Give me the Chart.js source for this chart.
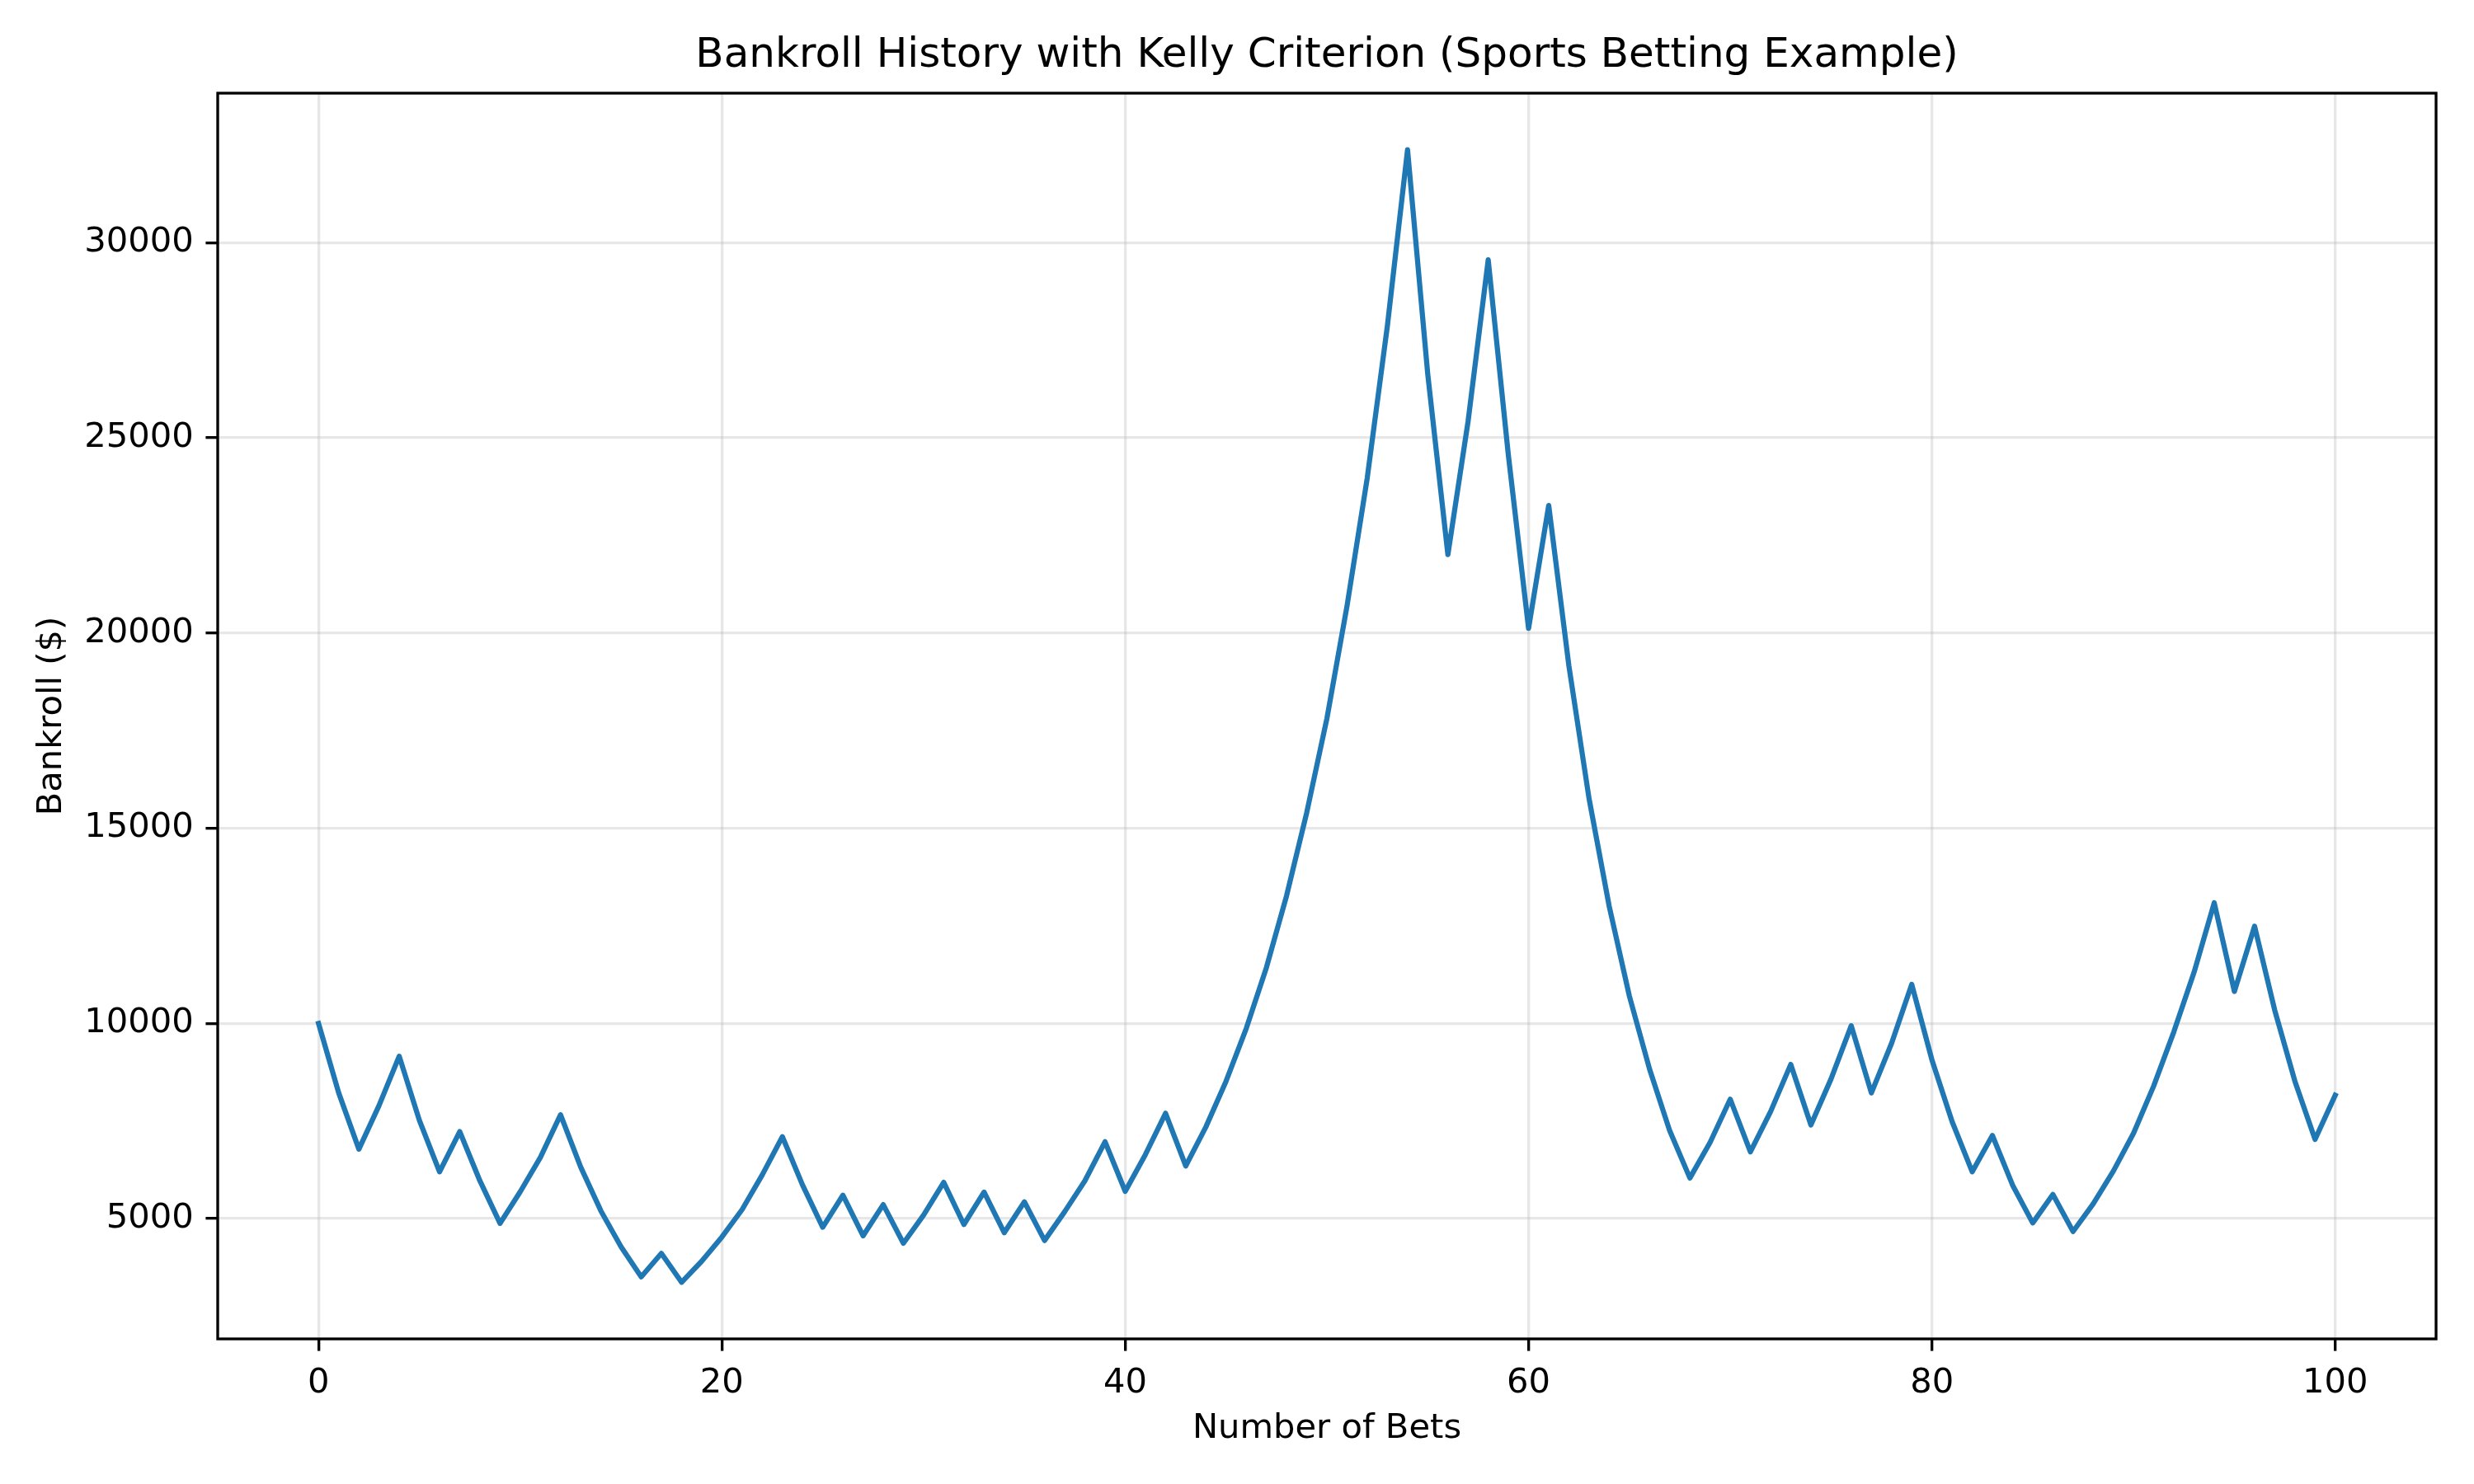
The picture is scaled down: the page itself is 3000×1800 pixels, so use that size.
<!DOCTYPE html>
<html>
<head>
<meta charset="utf-8">
<title>Bankroll History with Kelly Criterion</title>
<script src="https://cdn.jsdelivr.net/npm/chart.js@4.4.1/dist/chart.umd.min.js"></script>
<style>
  html, body { margin: 0; padding: 0; background: #fff; }
  #wrap { width: 3000px; height: 1800px; }
</style>
</head>
<body>
<div id="wrap"><canvas id="grafico" width="3000" height="1800"></canvas></div>
<script>
// bet number on the x axis
const bets = Array.from({ length: 101 }, (_, i) => i);

// bankroll after each bet
const bankroll = [
    10000, 8220, 6780, 7900, 9160, 7520, 6200, 7230, 5970, 4880,
    5690, 6570, 7660, 6320, 5200, 4280, 3510, 4110, 3370, 3910,
    4530, 5230, 6120, 7100, 5860, 4780, 5600, 4560, 5360, 4370,
    5090, 5930, 4850, 5680, 4640, 5430, 4440, 5180, 5970, 6970,
    5700, 6640, 7700, 6350, 7350, 8520, 9870, 11430, 13270, 15400,
    17810, 20700, 23970, 27870, 32380, 26640, 22010, 25420, 29560, 24550,
    20120, 23270, 19160, 15760, 13000, 10700, 8830, 7250, 6040, 6950,
    8060, 6710, 7740, 8950, 7400, 8580, 9940, 8220, 9490, 11000,
    9070, 7490, 6200, 7130, 5860, 4890, 5620, 4670, 5380, 6220,
    7190, 8400, 9790, 11310, 13090, 10820, 12490, 10340, 8520, 7030,
    8160
];

const xTicks = [0, 20, 40, 60, 80, 100];
const yTicks = [5000, 10000, 15000, 20000, 25000, 30000];

const PT = 300 / 72; // points -> pixels at 300 dpi

// 5% margin around the data, like the original plot
const yMin = Math.min(...bankroll);
const yMax = Math.max(...bankroll);
const yPad = (yMax - yMin) * 0.05;
const xPad = (bets[bets.length - 1] - bets[0]) * 0.05;

// full box around the plot area
const marco = {
    id: 'marco',
    afterDraw(chart) {
        const { ctx, chartArea: a } = chart;
        ctx.save();
        ctx.strokeStyle = '#000';
        ctx.lineWidth = 0.8 * PT;
        ctx.strokeRect(a.left, a.top, a.right - a.left, a.bottom - a.top);
        ctx.restore();
    }
};

Chart.defaults.font.family = 'DejaVu Sans';
Chart.defaults.color = '#000';

const gridOpts = {
    color: 'rgba(176,176,176,0.3)',
    lineWidth: 0.8 * PT,
    drawTicks: true,
    tickLength: 3.5 * PT,
    tickColor: '#000',
    tickWidth: 0.8 * PT
};

const ctx = document.getElementById('grafico').getContext('2d');
const chart = new Chart(ctx, {
    type: 'line',
    data: {
        datasets: [{
            label: 'Bankroll',
            data: bets.map((b, i) => ({ x: b, y: bankroll[i] })),
            borderColor: '#1f77b4',
            borderWidth: 1.5 * PT,
            pointRadius: 0,
            tension: 0,
            borderJoinStyle: 'round',
            borderCapStyle: 'square',
            fill: false
        }]
    },
    options: {
        responsive: false,
        devicePixelRatio: 1,
        animation: false,
        layout: { padding: { left: 0, right: 46, top: 0, bottom: 0 } },
        plugins: {
            legend: { display: false },
            tooltip: { enabled: false },
            title: {
                display: true,
                text: 'Bankroll History with Kelly Criterion (Sports Betting Example)',
                fullSize: false,
                font: { size: 12 * PT, weight: 'normal' },
                color: '#000',
                padding: { top: 38, bottom: 15 }
            }
        },
        scales: {
            x: {
                type: 'linear',
                min: bets[0] - xPad,
                max: bets[bets.length - 1] + xPad,
                afterBuildTicks: s => { s.ticks = xTicks.map(v => ({ value: v })); },
                afterFit: s => { s.height = 176; },
                grid: gridOpts,
                border: { display: false },
                ticks: {
                    font: { size: 10 * PT },
                    padding: 3.5 * PT,
                    maxRotation: 0,
                    callback: v => String(v)
                },
                title: {
                    display: true,
                    text: 'Number of Bets',
                    font: { size: 10 * PT },
                    padding: { top: 0, bottom: 42 }
                }
            },
            y: {
                min: yMin - yPad,
                max: yMax + yPad,
                afterBuildTicks: s => { s.ticks = yTicks.map(v => ({ value: v })); },
                afterFit: s => { s.width = 264; },
                grid: gridOpts,
                border: { display: false },
                ticks: {
                    font: { size: 10 * PT },
                    padding: 3.5 * PT,
                    callback: v => String(v)
                },
                title: {
                    display: true,
                    text: 'Bankroll ($)',
                    font: { size: 10 * PT },
                    padding: { top: 38, bottom: 0 }
                }
            }
        }
    },
    plugins: [marco]
});
</script>
</body>
</html>
